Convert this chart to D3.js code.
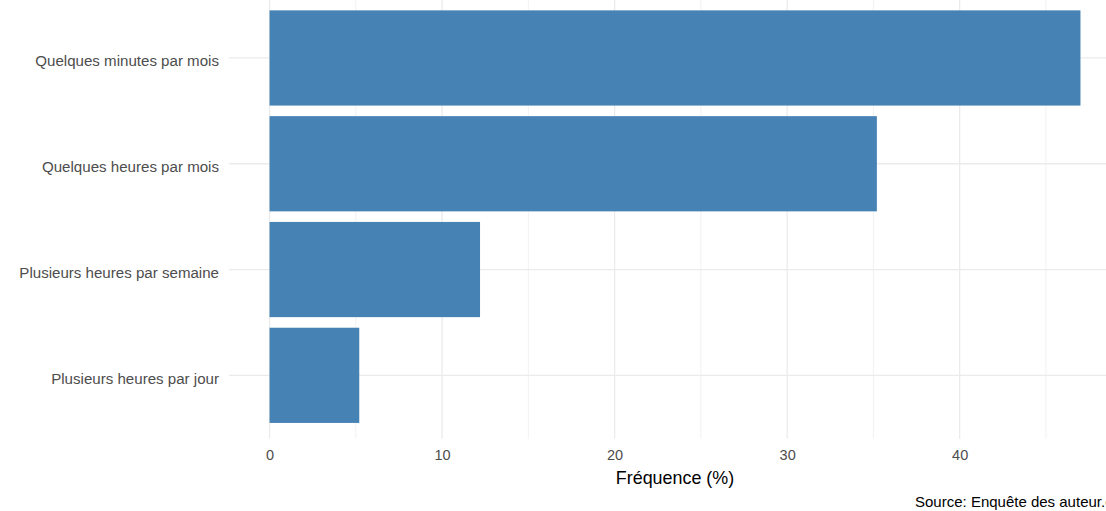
<!DOCTYPE html>
<html>
<head>
<meta charset="utf-8">
<script src="https://cdn.jsdelivr.net/npm/d3@7"></script>
<style>
  html, body { margin: 0; padding: 0; background: #fff; }
  svg { display: block; font-family: "Liberation Sans", Arial, sans-serif; }
</style>
</head>
<body>
<svg id="chart" width="1106" height="511"></svg>
<script>
const categories = [
  "Quelques minutes par mois",
  "Quelques heures par mois",
  "Plusieurs heures par semaine",
  "Plusieurs heures par jour"
];
const frequencies = [47.0, 35.2, 12.2, 5.2];
const majorTicks = [0, 10, 20, 30, 40];
const minorTicks = [5, 15, 25, 35, 45];
const xTitle = "Fréquence (%)";
const caption = "Source: Enquête des auteur.es";

const data = categories.map((c, i) => ({ cat: c, value: frequencies[i] }));

const svg = d3.select("#chart");
const panel = { left: 229, right: 1121, top: -5.5, bottom: 438.8 };

const xMax = d3.max(frequencies);
const expand = 0.05 * xMax;
const x = d3.scaleLinear()
  .domain([-expand, xMax + expand])
  .range([panel.left, panel.right]);

const y = d3.scaleBand()
  .domain(categories)
  .range([panel.top, panel.bottom])
  .paddingInner(0.1)
  .paddingOuter(0.15);

const grid = svg.append("g");
// minor vertical gridlines
grid.selectAll("line.minor").data(minorTicks).enter().append("line")
  .attr("class", "minor")
  .attr("x1", d => x(d)).attr("x2", d => x(d))
  .attr("y1", panel.top).attr("y2", panel.bottom)
  .attr("stroke", "#EBEBEB").attr("stroke-width", 0.7);
// major vertical gridlines
grid.selectAll("line.majx").data(majorTicks).enter().append("line")
  .attr("class", "majx")
  .attr("x1", d => x(d)).attr("x2", d => x(d))
  .attr("y1", panel.top).attr("y2", panel.bottom)
  .attr("stroke", "#EBEBEB").attr("stroke-width", 1.3);
// major horizontal gridlines
grid.selectAll("line.majy").data(categories).enter().append("line")
  .attr("class", "majy")
  .attr("x1", panel.left).attr("x2", panel.right)
  .attr("y1", d => y(d) + y.bandwidth() / 2).attr("y2", d => y(d) + y.bandwidth() / 2)
  .attr("stroke", "#EBEBEB").attr("stroke-width", 1.3);

// bars
svg.append("g").selectAll("rect").data(data).enter().append("rect")
  .attr("x", x(0))
  .attr("y", d => y(d.cat))
  .attr("width", d => x(d.value) - x(0))
  .attr("height", y.bandwidth())
  .attr("fill", "#4682B4");

// y axis labels
const yAxis = svg.append("g")
  .attr("transform", `translate(${panel.left - 10},0)`)
  .call(d3.axisLeft(y).tickSize(0).tickPadding(0));
yAxis.select(".domain").remove();
yAxis.selectAll("text")
  .attr("fill", "#4D4D4D")
  .attr("dy", "0.55em")
  .style("font-size", "15.1px")
  .style("font-family", "'Liberation Sans', Arial, sans-serif");

// x axis labels
const xAxis = svg.append("g")
  .attr("transform", `translate(0,${panel.bottom})`)
  .call(d3.axisBottom(x).tickValues(majorTicks).tickSize(0).tickPadding(0).tickFormat(d3.format("d")));
xAxis.select(".domain").remove();
xAxis.selectAll("text")
  .attr("fill", "#4D4D4D")
  .attr("dy", null)
  .attr("y", 21)
  .style("font-size", "14.5px")
  .style("font-family", "'Liberation Sans', Arial, sans-serif");

// x title
svg.append("text")
  .attr("x", (panel.left + panel.right) / 2)
  .attr("y", 483.5)
  .attr("text-anchor", "middle")
  .attr("fill", "#000")
  .style("font-size", "17.9px")
  .text(xTitle);

// caption
svg.append("text")
  .attr("x", panel.right)
  .attr("y", 506.5)
  .attr("text-anchor", "end")
  .attr("fill", "#000")
  .style("font-size", "15px")
  .text(caption);
</script>
</body>
</html>
